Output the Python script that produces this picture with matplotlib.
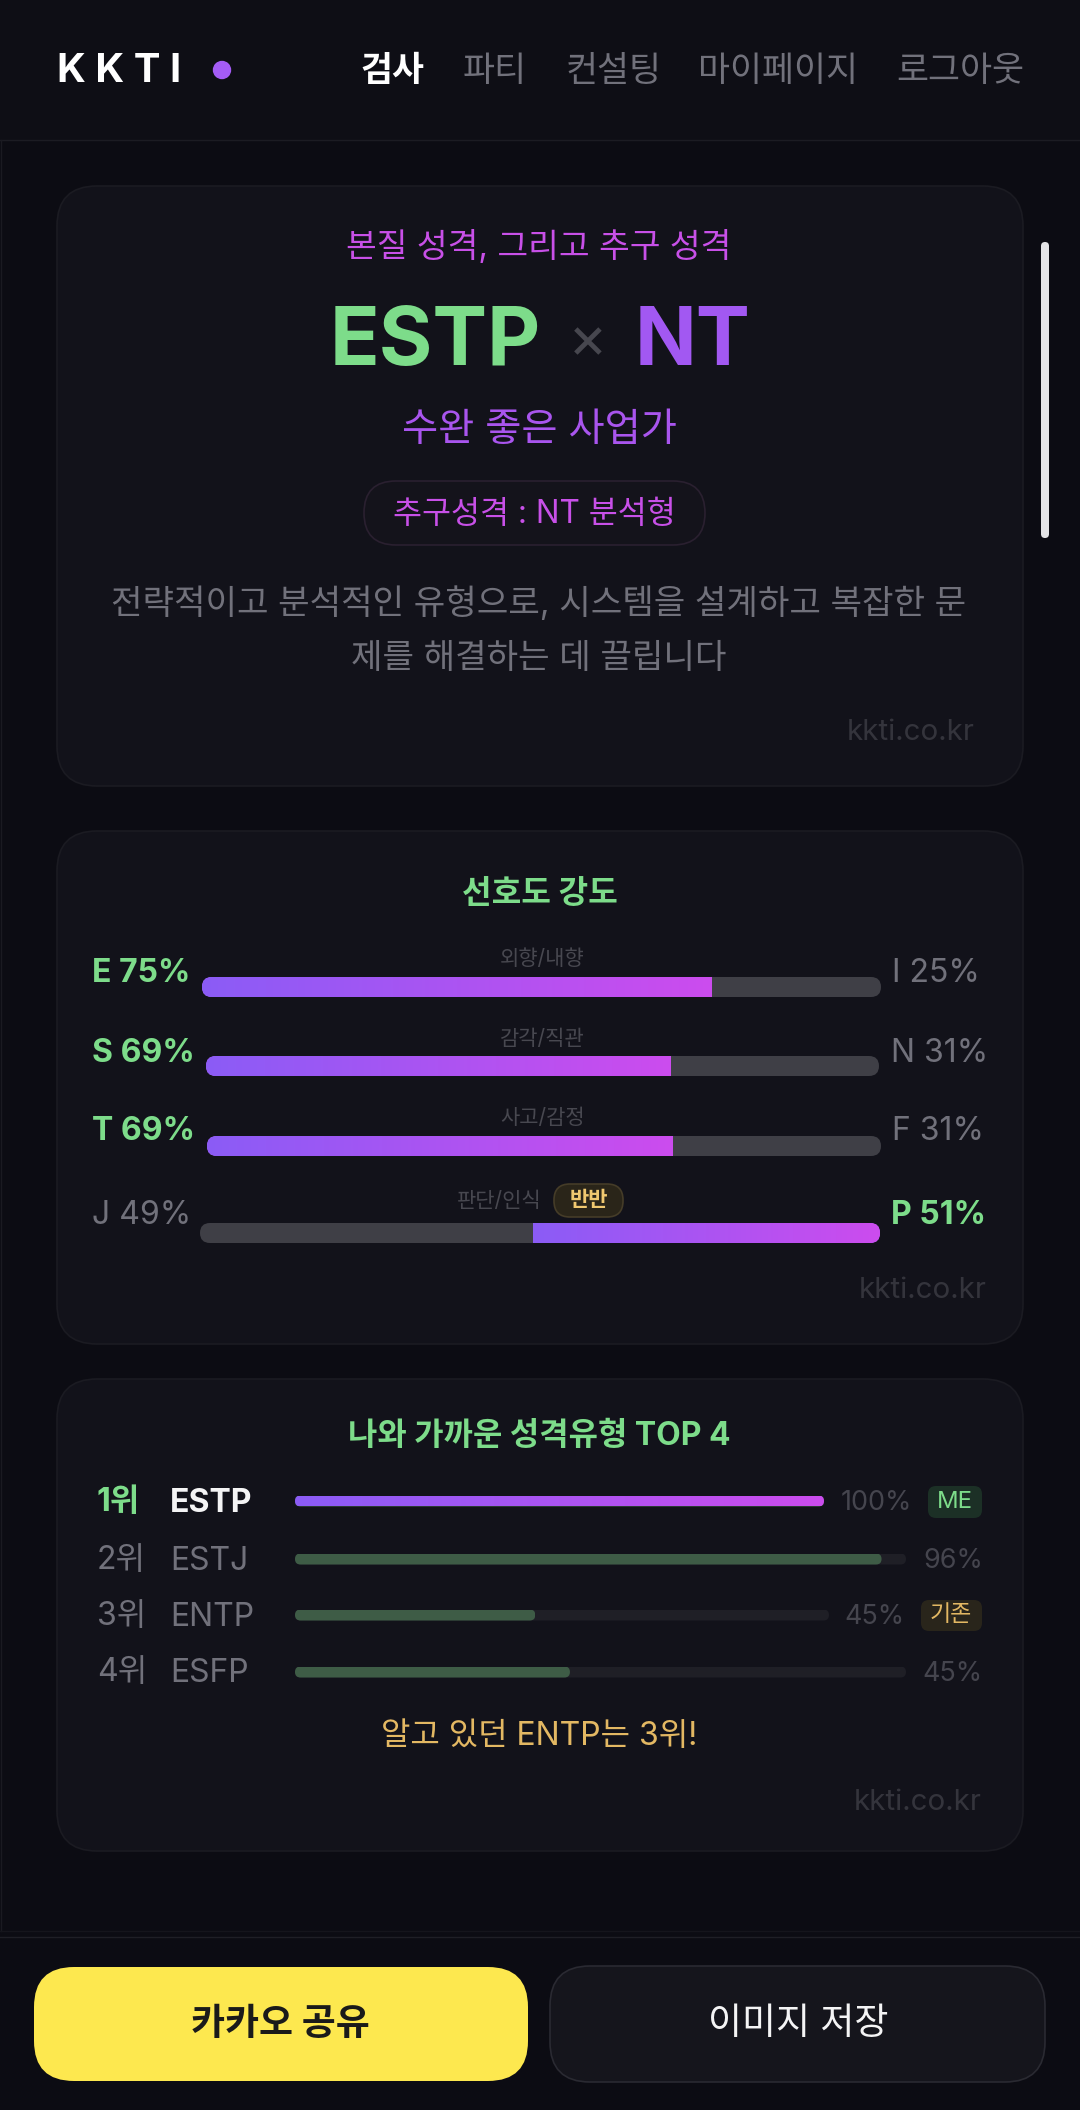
import numpy as np
import matplotlib
matplotlib.use("Agg")
import matplotlib.pyplot as plt
from matplotlib.patches import FancyBboxPatch, Circle
from matplotlib.colors import LinearSegmentedColormap

# ---- data ----
nav_items = ["검사", "파티", "컨설팅", "마이페이지", "로그아웃"]
axis_names = ["외향/내향", "감각/직관", "사고/감정", "판단/인식"]
left_letters = ["E", "S", "T", "J"]
right_letters = ["I", "N", "F", "P"]
left_values = [75, 69, 69, 49]
right_values = [25, 31, 31, 51]
rank_labels = ["1위", "2위", "3위", "4위"]
rank_types = ["ESTP", "ESTJ", "ENTP", "ESFP"]
rank_shown = ["100%", "96%", "45%", "45%"]
rank_fill = [100, 96, 45, 45]

# ---- style ----
W, H = 1080, 2110
FONT = ["Inter", "Noto Sans CJK KR", "DejaVu Sans"]
plt.rcParams["font.family"] = FONT
BG = "#0c0c13"; CARD = "#12121a"; EDGE = "#1b1b22"
GREEN = "#7ddc8a"; PINK = "#c850e8"; PURPLE = "#a258f2"; MUTED = "#71717b"
DIM = "#45454e"; WM = "#34343c"; GOLD = "#e3b863"
TRACK = "#3f3f46"; TRACK2 = "#1f1f26"; DGREEN = "#3e5c46"
GRAD = LinearSegmentedColormap.from_list("g", ["#8b5cf6", "#cc4cee"])

fig = plt.figure(figsize=(W / 100, H / 100), dpi=100, facecolor=BG)
ax = fig.add_axes([0, 0, 1, 1])
ax.set_xlim(0, W); ax.set_ylim(H, 0); ax.axis("off")


def px(s):
    return s * 0.72


def rr(x0, y0, x1, y1, r, fc="none", ec="none", lw=1.0, z=2, add=True):
    p = FancyBboxPatch((x0 + r, y0 + r), x1 - x0 - 2 * r, y1 - y0 - 2 * r,
                       boxstyle=f"round,pad={r},rounding_size={r}",
                       fc=fc, ec=ec, lw=lw, zorder=z, transform=ax.transData)
    if add:
        ax.add_patch(p)
    return p


def T(x, y, s, size, color, ha="center", weight="normal", z=5):
    return ax.text(x, y, s, fontsize=px(size), color=color, ha=ha, va="center",
                   fontweight=weight, zorder=z, family=FONT)


def bar_axes(x0, y0, x1, y1):
    a = fig.add_axes([x0 / W, 1 - y1 / H, (x1 - x0) / W, (y1 - y0) / H], zorder=3)
    a.set_xlim(0, 100); a.set_ylim(0, 1); a.axis("off"); a.patch.set_alpha(0)
    return a


def gradient_fill(a, left, value, clip):
    im = a.imshow(np.linspace(0, 1, 256)[None, :], cmap=GRAD, aspect="auto",
                  extent=(left, left + value, 0, 1), zorder=3)
    im.set_clip_path(clip)
    a.set_xlim(0, 100); a.set_ylim(0, 1)


# ---- page frame ----
ax.fill_between([0, W], 0, 140, color="#0e0e15", zorder=1, lw=0)
ax.plot([0, W], [140, 140], color="#1c1c23", lw=1, zorder=2)
ax.plot([0.5, 0.5], [140, 1931], color="#1a1a21", lw=1, zorder=2)
ax.plot([0, W], [1931, 1931], color="#15151c", lw=1, zorder=2)
ax.plot([0, W], [1937, 1937], color="#1f1f26", lw=1, zorder=2)

# ---- header ----
T(57, 72, "K K T I", 40, "#ffffff", ha="left", weight="bold")
ax.add_patch(Circle((222, 70), 8.5, color="#a45cf5", zorder=5))
for cx, label, i in zip([392, 495, 614, 778, 960], nav_items, range(5)):
    T(cx, 72, label, 34.8, "#ffffff" if i == 0 else MUTED, weight="bold" if i == 0 else "normal")

# ---- scrollbar ----
rr(1041, 242, 1049, 538, 4, fc="#e4e4e7", z=6)

# ---- card 1 ----
rr(57, 186, 1023, 786, 40, fc=CARD, ec=EDGE, lw=1.2)
T(539, 247, "본질 성격, 그리고 추구 성격", 33.4, PINK)
T(330, 344, "ESTP", 82, GREEN, ha="left", weight="bold")
T(588, 343, "×", 60, "#47474f")
T(635, 344, "NT", 81, PURPLE, ha="left", weight="bold")
T(539, 431, "수완 좋은 사업가", 39.3, "#a955ee")
rr(364, 481, 705, 545, 32, fc="#14131b", ec="#2a2030", lw=1.2, z=3)
T(534, 515, "추구성격 : NT 분석형", 31.5, PINK)
T(539, 604, "전략적이고 분석적인 유형으로, 시스템을 설계하고 복잡한 문", 34.3, MUTED)
T(539, 659, "제를 해결하는 데 끌립니다", 34.3, MUTED)
T(975, 732, "kkti.co.kr", 29.5, WM, ha="right")

# ---- card 2 ----
rr(57, 831, 1023, 1344, 40, fc=CARD, ec=EDGE, lw=1.2)
T(540, 894, "선호도 강도", 32.2, GREEN, weight="bold")
track_x = [(202, 881), (206, 879), (207, 881), (200, 880)]
track_y = [977, 1056, 1136, 1223]
label_y = [974, 1053, 1132, 1216]
name_y = [959, 1039, 1118, 1201]
name_x = [542, 542, 543, 499]
right_x = [892, 891, 892, 891]
for i in range(4):
    x0, x1 = track_x[i]; y0 = track_y[i]; y1 = y0 + 20
    a = bar_axes(x0, y0, x1, y1)
    clip = rr(x0, y0, x1, y1, 10, add=False)
    left_major = left_values[i] >= right_values[i]
    t = a.barh(0.5, 100, height=1, color=TRACK, zorder=2)[0]
    t.set_clip_path(clip)
    if left_major:
        start, val = 0, left_values[i]
    else:
        start, val = left_values[i], right_values[i]
    b = a.barh(0.5, val, left=start, height=1, color="#a855f7", zorder=2.5)[0]
    b.set_clip_path(clip)
    gradient_fill(a, start, val, clip)
    T(92, label_y[i], f"{left_letters[i]} {left_values[i]}%", 32,
      GREEN if left_major else MUTED, ha="left", weight="bold" if left_major else "normal")
    T(right_x[i], label_y[i], f"{right_letters[i]} {right_values[i]}%", 32,
      MUTED if left_major else GREEN, ha="left", weight="normal" if left_major else "bold")
    T(name_x[i], name_y[i], axis_names[i], 21, "#484850")
rr(554, 1184, 623, 1217, 16, fc="#2a2519", ec="#453c28", lw=1.2, z=4)
T(589, 1200, "반반", 21, "#f0c870", weight="bold")
T(987, 1291, "kkti.co.kr", 29.5, WM, ha="right")

# ---- card 3 ----
rr(57, 1379, 1023, 1851, 40, fc=CARD, ec=EDGE, lw=1.2)
T(539, 1436, "나와 가까운 성격유형 TOP 4", 31.9, GREEN, weight="bold")
row_y = [1501, 1559, 1615, 1672]
row_track_end = [824, 906, 829, 906]
pct_right = [912, 983, 904, 983]
text_y = [1503, 1561, 1617, 1673]
for i in range(4):
    y = row_y[i]; y0 = y - 5.5; y1 = y + 5.5; x0 = 295; x1 = row_track_end[i]
    a = bar_axes(x0, y0, x1, y1)
    tclip = rr(x0, y0, x1, y1, 5.5, add=False)
    t = a.barh(0.5, 100, height=1, color=TRACK2, zorder=2)[0]
    t.set_clip_path(tclip)
    fill_end = x0 + (x1 - x0) * rank_fill[i] / 100
    fclip = rr(x0, y0, fill_end, y1, 5.5, add=False)
    b = a.barh(0.5, rank_fill[i], height=1, color=DGREEN, zorder=2.5)[0]
    b.set_clip_path(fclip)
    if i == 0:
        gradient_fill(a, 0, rank_fill[i], fclip)
    T(97, text_y[i], rank_labels[i], 32, GREEN if i == 0 else MUTED, ha="left",
      weight="bold" if i == 0 else "normal")
    T(170, text_y[i], rank_types[i], 32, "#f4f4f5" if i == 0 else MUTED, ha="left",
      weight="bold" if i == 0 else "normal")
    T(pct_right[i], y + 2, rank_shown[i], 27, DIM, ha="right")
rr(928, 1486, 982, 1518, 8, fc="#1c3026", z=4)
T(955, 1502, "ME", 24, GREEN)
rr(921, 1600, 982, 1631, 8, fc="#29251b", z=4)
T(951, 1615, "기존", 23, GOLD)
T(539, 1737, "알고 있던 ENTP는 3위!", 32, GOLD)
T(982, 1802, "kkti.co.kr", 29.5, WM, ha="right")

# ---- footer buttons ----
rr(34, 1967, 528, 2081, 40, fc="#fde84f", z=3)
T(280, 2025, "카카오 공유", 37, "#1a1a1a", weight="bold")
rr(550, 1966, 1045, 2082, 40, fc="#15151c", ec="#2a2a32", lw=1.2, z=3)
T(798, 2024, "이미지 저장", 37, "#f4f4f5")

fig.savefig("out.png", dpi=100, facecolor=BG)
